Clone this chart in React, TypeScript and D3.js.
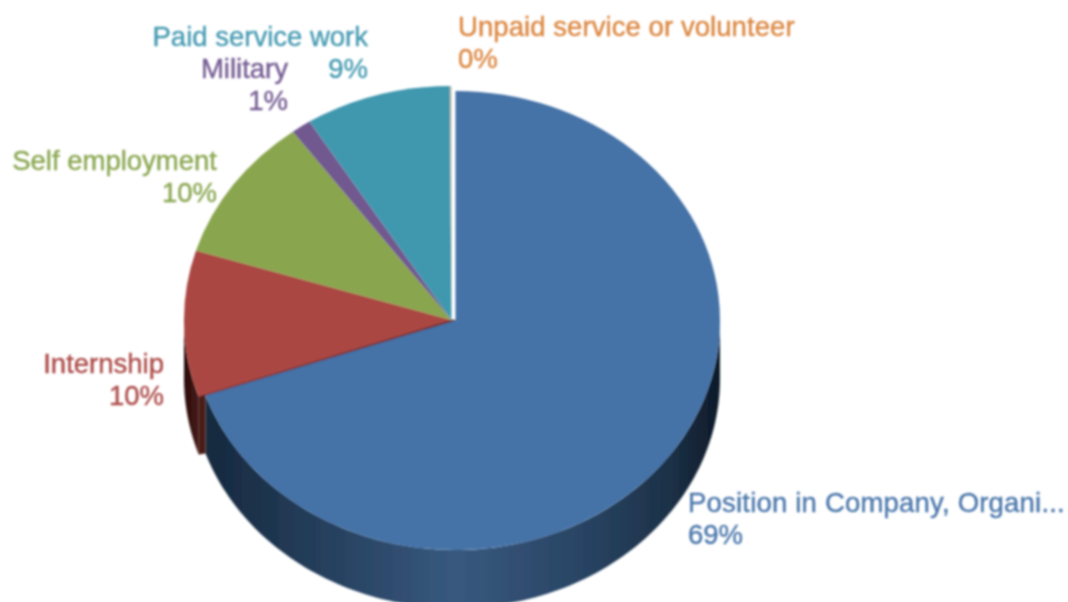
import React from "react";
import * as d3 from "d3";

const categories = ["Position in Company, Organi...", "Internship", "Self employment", "Military", "Paid service work", "Unpaid service or volunteer"];
const shares = [69.7, 10.1, 10.1, 1.2, 8.8, 0.1];
const percentLabels = ["69%", "10%", "10%", "1%", "9%", "0%"];
const colors = ["#4572a7", "#aa4643", "#89a54e", "#71588f", "#4198af", "#b9b7a8"];
const labelColors = ["#4b77ab", "#ad4c49", "#8ba752", "#745c92", "#479bb2", "#dc8741"];

const W = 1068, H = 602;
const depth = 58;
const mainEllipse = { cx: 455.5, cy: 320.5, rx: 264.5, ry: 229.5 };
const otherEllipse = { cx: 451.5, cy: 320, rx: 267.5, ry: 234 };
const labelLayout = [
  { x: 688, y: 512, anchor: "start", spacing: 0.2 },
  { x: 164, y: 373, anchor: "end", spacing: 0 },
  { x: 217, y: 170, anchor: "end", spacing: 0 },
  { x: 288, y: 78, anchor: "end", spacing: 0 },
  { x: 368, y: 46, anchor: "end", spacing: 0 },
  { x: 458, y: 36, anchor: "start", spacing: 0.07 },
];

const arcs = d3.pie<number>().sort(null).value((d) => d)(shares);
const unitArc = d3.arc<d3.PieArcDatum<number>>().innerRadius(0).outerRadius(1);
const TAU = Math.PI * 2;
const rimPoint = (a: number, e: typeof mainEllipse, dy = 0): [number, number] => [
  e.cx + e.rx * Math.sin(a),
  e.cy - e.ry * Math.cos(a) + dy,
];

function sidePath(a0: number, a1: number, e: typeof mainEllipse) {
  const start = Math.max(a0, TAU / 4);
  const end = Math.min(a1, (TAU * 3) / 4);
  if (end <= start) return null;
  const angles = d3.range(0, 121).map((i) => start + ((end - start) * i) / 120);
  const top = angles.map((a) => rimPoint(a, e));
  const bottom = angles.slice().reverse().map((a) => rimPoint(a, e, depth));
  return d3.line()([...top, ...bottom]) + "Z";
}

export default function App() {
  const ellipseOf = (i: number) => (i === 0 ? mainEllipse : otherEllipse);
  const redStart = arcs[1].startAngle;
  const redCorner = rimPoint(redStart, otherEllipse);
  const blueCorner = rimPoint(redStart, mainEllipse);
  const cutFace = d3.line()([
    redCorner,
    blueCorner,
    [blueCorner[0], blueCorner[1] + depth],
    [redCorner[0], redCorner[1] + depth],
  ]) + "Z";
  const seam = d3.line()([
    [otherEllipse.cx, otherEllipse.cy],
    redCorner,
    blueCorner,
    [mainEllipse.cx, mainEllipse.cy],
  ]) + "Z";
  return (
    <svg width={W} height={H} viewBox={`0 0 ${W} ${H}`} style={{ position: "absolute", left: 0, top: 0, display: "block", background: "#fff" }}>
      <defs>
        <filter id="soft" x="-5%" y="-5%" width="110%" height="110%">
          <feGaussianBlur stdDeviation="0.8" />
        </filter>
        <linearGradient id="side0" gradientUnits="userSpaceOnUse" x1={mainEllipse.cx - mainEllipse.rx} x2={mainEllipse.cx + mainEllipse.rx} y1={0} y2={0}>
          <stop offset="0" stopColor="#14263a" />
          <stop offset="0.2" stopColor="#223a56" />
          <stop offset="0.5" stopColor="#38597f" />
          <stop offset="0.72" stopColor="#2a4666" />
          <stop offset="0.9" stopColor="#1d3249" />
          <stop offset="1" stopColor="#0e1a28" />
        </linearGradient>
        <linearGradient id="side1" gradientUnits="userSpaceOnUse" x1={184} x2={206} y1={0} y2={0}>
          <stop offset="0" stopColor="#2a0d0c" />
          <stop offset="1" stopColor="#521d1b" />
        </linearGradient>
      </defs>
      <g filter="url(#soft)">
        {arcs.map((a, i) => {
          const d = sidePath(a.startAngle, a.endAngle, ellipseOf(i));
          return d ? <path key={i} d={d} fill={i < 2 ? `url(#side${i})` : colors[i]} /> : null;
        })}
        <path d={cutFace} fill="#4c1b19" />
        <path d={seam} fill="#5a1f1d" stroke="#5a1f1d" strokeWidth={1} />
        {arcs.map((a, i) => {
          const e = ellipseOf(i);
          return (
            <path
              key={i}
              d={unitArc(a) as string}
              fill={colors[i]}
              transform={`translate(${e.cx},${e.cy}) scale(${e.rx},${e.ry})`}
            />
          );
        })}
        {categories.map((c, i) => {
          const l = labelLayout[i];
          return (
            <text
              key={c}
              fontFamily="'Liberation Sans', Arial, sans-serif"
              fontSize={27.5}
              fill={labelColors[i]}
              stroke={labelColors[i]}
              strokeWidth={0.4}
              textAnchor={l.anchor as any}
            >
              <tspan x={l.x} y={l.y} letterSpacing={l.spacing}>{c}</tspan>
              <tspan x={l.x} y={l.y + 32}>{percentLabels[i]}</tspan>
            </text>
          );
        })}
      </g>
    </svg>
  );
}
